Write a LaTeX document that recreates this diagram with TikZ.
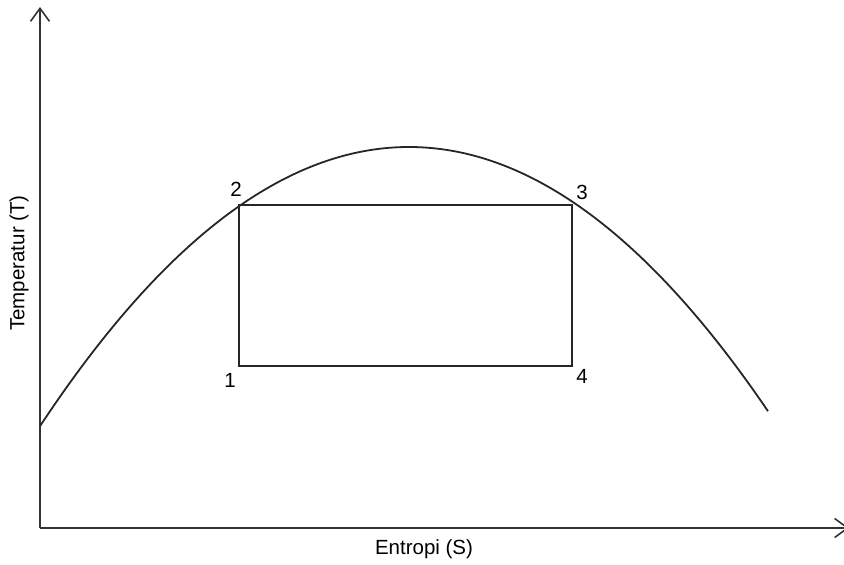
\documentclass[tikz,border=0pt]{standalone}
\usepackage{fontspec}
\setmainfont{Liberation Sans}
\usetikzlibrary{arrows.meta}
\begin{document}
\begin{tikzpicture}[x=1pt,y=-1pt,
  axis/.style={line width=1.8pt,draw=black!80,-{Straight Barb[length=13pt,width=19pt,line width=1.6pt]}},
  ln/.style={line width=1.8pt,draw=black!85},
  lbl/.style={font=\fontsize{20.5}{24}\selectfont,inner sep=0pt}]
\useasboundingbox (0,0) rectangle (844,565);
\coordinate (O) at (40,528);
\coordinate (Ytop) at (40,7);
\coordinate (Xend) at (849,528);
\draw[axis] (O) -- (Ytop);
\draw[axis] (O) -- (Xend);
\draw[ln] plot[domain=40:768,samples=120,smooth] (\x,{147+20.5*((\x-409)/100)^2});
\coordinate (p1) at (239,366);
\coordinate (p2) at (239,205);
\coordinate (p3) at (572,205);
\coordinate (p4) at (572,366);
\draw[ln] (p1) -- (p2) -- (p3) -- (p4) -- cycle;
\node[lbl] (l2) at (236,189) {2};
\node[lbl] (l3) at (582,192) {3};
\node[lbl] (l1) at (230,380) {1};
\node[lbl] (l4) at (582,376) {4};
\node[lbl] (xl) at (424,549) {Entropi (S)};
\node[lbl,rotate=90] (yl) at (19,263) {Temperatur (T)};
\end{tikzpicture}
\end{document}
